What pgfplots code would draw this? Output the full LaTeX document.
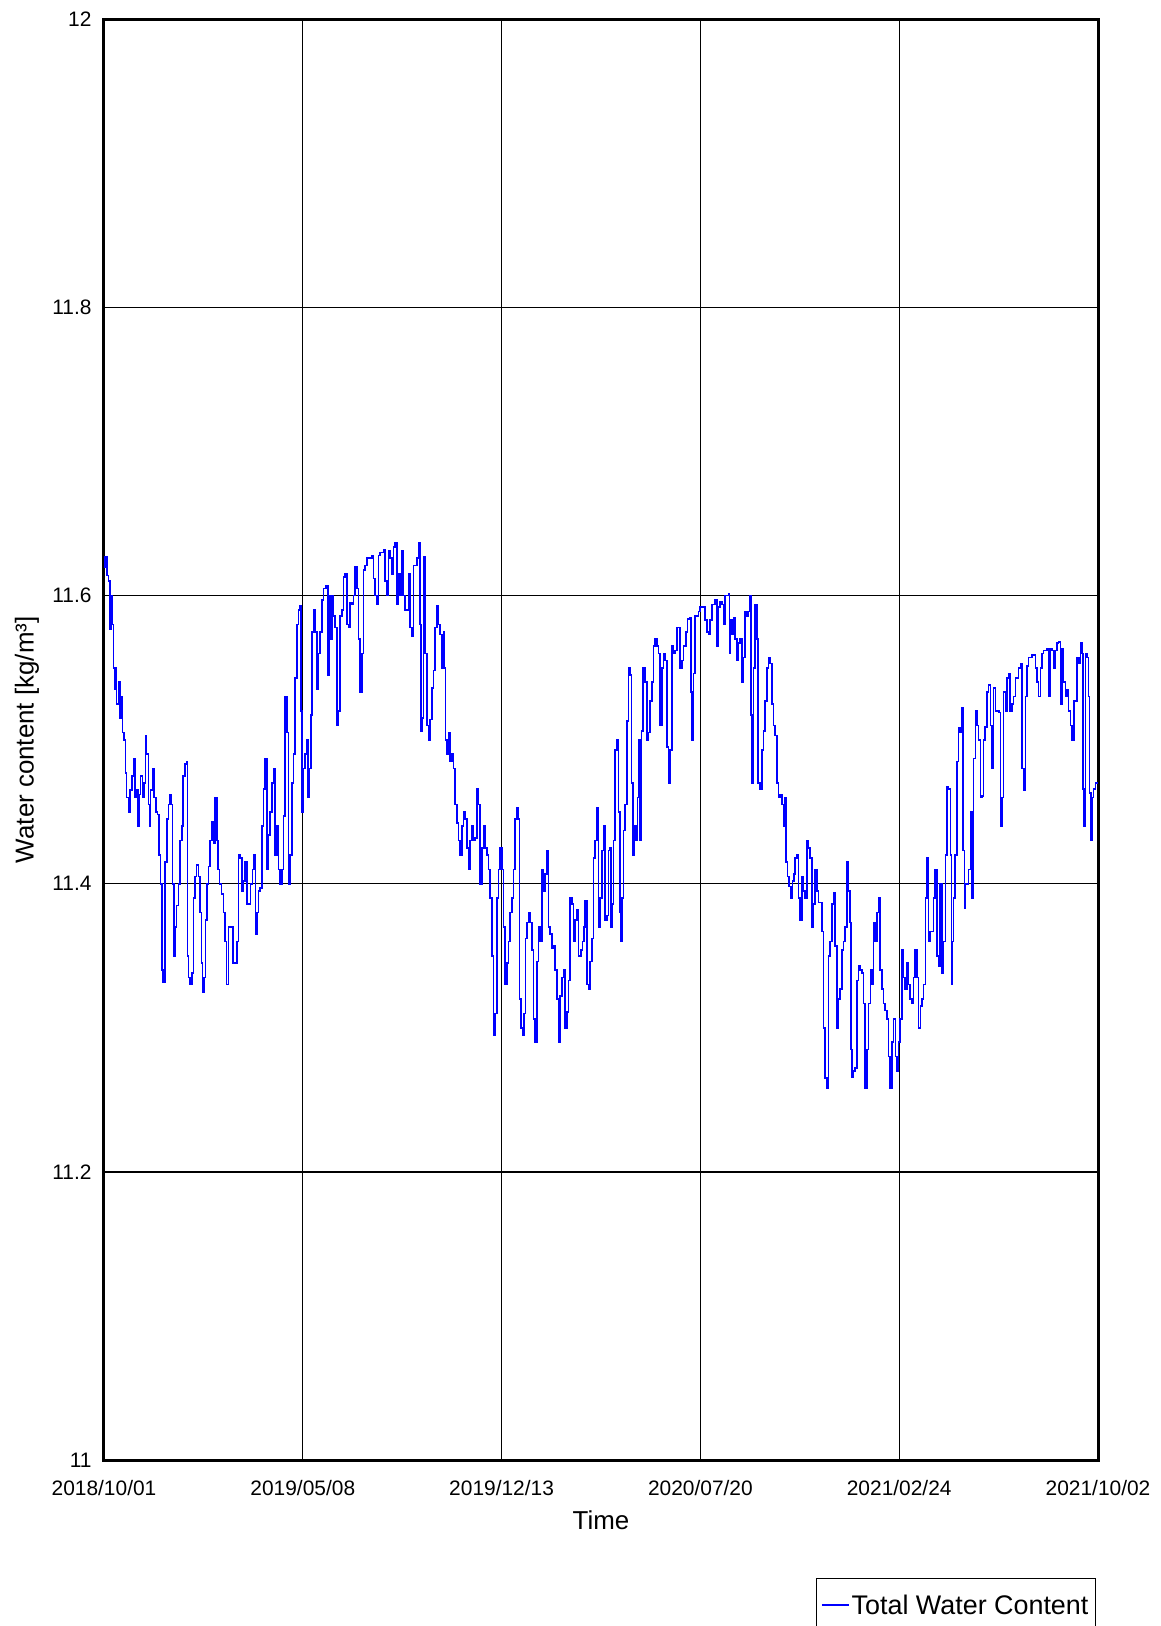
\documentclass[border=0pt]{standalone}
\usepackage{fontspec}
\setmainfont{Liberation Sans}
\usepackage{pgfplots}
\pgfplotsset{compat=1.18}
\begin{document}
\begin{tikzpicture}
\path[use as bounding box] (-104bp,-166bp) rectangle (1057bp,1460bp);
\begin{axis}[
  at={(0,0)}, anchor=south west,
  scale only axis, width=994bp, height=1440.5bp,
  xmin=0, xmax=1097, ymin=11, ymax=12,
  xtick={0,219.4,438.8,658.2,877.6,1097},
  xticklabels={2018/10/01,2019/05/08,2019/12/13,2020/07/20,2021/02/24,2021/10/02},
  ytick={11,11.2,11.4,11.6,11.8,12},
  yticklabels={11,11.2,11.4,11.6,11.8,12},
  major tick length=0pt,
  grid=major, major grid style={black, line width=1.3bp},
  axis line style={black, line width=3bp},
  tick label style={font=\fontsize{21}{25}\selectfont},
  xticklabel style={yshift=-17bp},
  yticklabel style={xshift=-9bp},
  xlabel={Time}, ylabel={Water content [kg/m³]},
  every axis x label/.style={at={(axis description cs:0.5,0)}, anchor=center, yshift=-60bp, font=\fontsize{26}{30}\selectfont},
  every axis y label/.style={at={(axis description cs:-0.0775,0.5)}, anchor=center, rotate=90, font=\fontsize{26}{30}\selectfont},
  legend style={at={(1,0)}, anchor=north east, xshift=-2bp, yshift=-118bp, draw=black, line width=1.2bp, font=\fontsize{27}{31}\selectfont, inner xsep=5bp, inner ysep=14bp},
  legend cell align=left,
  legend image code/.code={\draw[blue, line width=1.5bp] (0bp,0bp) -- (23bp,0bp); \path (0bp,0bp) -- (27bp,0bp);},
]
\addplot[const plot, blue, line width=1.6bp] table {
0 11.62
1.1 11.627
3.0 11.614
4.8 11.61
6.6 11.577
7.7 11.60
8.8 11.58
10.3 11.55
11.4 11.535
12.9 11.55
14.0 11.525
15.8 11.54
17.7 11.515
19.5 11.53
20.6 11.505
22.1 11.50
23.6 11.477
25.0 11.46
26.9 11.45
28.7 11.465
30.6 11.475
32.4 11.487
34.2 11.46
36.1 11.465
37.6 11.44
39.0 11.462
40.5 11.475
42.3 11.46
44.2 11.47
45.6 11.503
47.1 11.49
49.0 11.455
50.1 11.44
51.5 11.465
53.4 11.48
55.2 11.46
57.1 11.45
58.9 11.448
60.4 11.42
62.2 11.40
63.7 11.34
65.2 11.332
67.0 11.415
69.2 11.445
71.0 11.455
72.9 11.462
74.7 11.455
75.8 11.40
77.3 11.35
78.8 11.37
80.2 11.385
82.1 11.40
83.9 11.43
85.8 11.44
87.2 11.475
89.1 11.483
90.9 11.485
92.0 11.35
93.1 11.335
95.0 11.33
96.8 11.338
98.6 11.39
100.5 11.405
102.3 11.413
104.2 11.405
106.0 11.38
107.5 11.345
108.9 11.325
110.4 11.335
111.9 11.375
113.4 11.40
115.2 11.412
117.0 11.43
118.9 11.443
120.7 11.428
122.6 11.46
124.4 11.43
125.9 11.41
127.3 11.40
129.6 11.393
131.8 11.38
133.6 11.36
135.4 11.33
137.3 11.37
139.9 11.37
142.1 11.345
144.6 11.345
146.5 11.36
148.3 11.42
150.2 11.418
152.0 11.395
153.8 11.402
155.7 11.415
157.5 11.386
160.1 11.386
161.9 11.40
163.8 11.41
165.6 11.42
167.1 11.365
168.6 11.38
170.4 11.395
172.2 11.397
174.1 11.44
175.9 11.466
177.8 11.487
179.6 11.41
181.4 11.434
183.3 11.45
185.1 11.47
187.0 11.48
188.8 11.42
190.7 11.44
192.5 11.41
194.3 11.40
196.2 11.41
198.0 11.447
199.9 11.53
201.7 11.505
203.5 11.40
205.4 11.42
207.2 11.47
209.1 11.49
210.9 11.543
212.7 11.58
214.6 11.59
216.4 11.593
217.5 11.52
218.6 11.45
220.1 11.48
221.9 11.49
223.8 11.50
225.3 11.46
226.7 11.48
228.2 11.517
229.7 11.575
231.1 11.59
233.0 11.575
234.8 11.535
236.7 11.56
238.5 11.575
240.3 11.597
242.2 11.605
245.1 11.607
247.0 11.545
248.4 11.60
250.3 11.57
251.7 11.60
253.2 11.586
255.1 11.578
256.9 11.51
258.7 11.52
260.6 11.586
262.4 11.59
264.3 11.613
266.1 11.615
267.9 11.58
269.8 11.578
271.6 11.595
273.5 11.594
275.3 11.60
277.1 11.62
279.0 11.605
280.8 11.57
282.7 11.533
284.5 11.56
286.3 11.618
288.2 11.621
290.0 11.626
293.7 11.626
295.5 11.628
297.4 11.612
299.2 11.60
301.1 11.594
302.9 11.628
304.7 11.63
308.4 11.632
310.3 11.61
312.1 11.60
313.9 11.631
315.8 11.626
317.6 11.615
319.5 11.634
321.3 11.637
323.1 11.594
325.0 11.615
326.8 11.60
328.7 11.631
330.5 11.60
332.3 11.59
334.2 11.59
336.0 11.615
337.9 11.578
339.7 11.572
341.5 11.621
344.1 11.621
345.2 11.626
347.1 11.637
348.5 11.58
349.6 11.506
351.1 11.515
352.6 11.627
354.4 11.56
356.3 11.51
358.1 11.50
359.9 11.514
361.8 11.536
363.6 11.548
365.5 11.578
367.3 11.593
369.1 11.58
371.0 11.573
372.7 11.55
374.6 11.575
375.7 11.55
376.8 11.50
378.3 11.49
380.1 11.505
382.0 11.485
383.8 11.49
385.6 11.48
387.5 11.455
389.3 11.442
391.1 11.43
393.0 11.42
394.8 11.44
396.7 11.45
398.5 11.445
400.3 11.425
402.2 11.41
404.0 11.43
405.9 11.44
407.7 11.43
409.5 11.432
411.4 11.466
413.2 11.455
415.1 11.40
416.9 11.425
418.7 11.44
420.6 11.425
422.4 11.42
424.3 11.41
426.1 11.39
427.9 11.35
429.8 11.295
431.6 11.31
433.5 11.39
435.3 11.41
437.1 11.425
439.0 11.41
440.8 11.37
442.7 11.33
444.5 11.345
446.3 11.36
448.2 11.38
450.0 11.39
451.9 11.41
453.7 11.445
455.5 11.453
457.4 11.445
458.5 11.32
460.0 11.30
461.8 11.295
463.6 11.31
465.1 11.362
467.0 11.373
468.4 11.38
470.3 11.373
472.1 11.354
474.0 11.306
475.8 11.29
477.6 11.346
479.5 11.37
481.3 11.36
483.1 11.41
485.0 11.395
486.8 11.407
488.7 11.423
490.5 11.37
492.3 11.365
494.2 11.355
496.0 11.357
497.9 11.34
499.7 11.32
501.5 11.29
503.4 11.322
505.2 11.335
507.1 11.34
508.9 11.30
510.7 11.311
512.6 11.333
514.4 11.39
516.3 11.386
518.1 11.36
519.9 11.375
521.8 11.382
523.6 11.35
526.2 11.354
528.0 11.36
529.5 11.37
531.0 11.388
532.8 11.33
534.7 11.327
536.5 11.346
538.3 11.362
540.2 11.418
542.0 11.43
543.9 11.453
545.7 11.37
547.5 11.39
549.4 11.423
551.2 11.44
553.1 11.375
554.9 11.378
556.7 11.423
558.6 11.425
559.3 11.37
560.4 11.386
562.3 11.43
564.1 11.493
566.0 11.50
567.8 11.45
569.3 11.38
570.4 11.36
571.8 11.39
573.3 11.437
575.2 11.455
577.0 11.513
578.8 11.55
580.7 11.545
582.2 11.47
583.6 11.42
585.5 11.44
587.3 11.43
588.8 11.46
590.2 11.50
591.7 11.43
593.2 11.506
595.0 11.55
596.9 11.54
599.1 11.50
600.9 11.505
602.8 11.527
604.6 11.54
606.4 11.565
608.3 11.57
610.1 11.565
612.0 11.56
613.8 11.51
615.6 11.55
617.5 11.56
619.3 11.555
621.2 11.495
623.0 11.47
624.8 11.493
626.7 11.565
628.5 11.56
630.4 11.562
632.2 11.578
634.8 11.578
635.9 11.55
637.7 11.555
639.6 11.565
642.1 11.575
644.0 11.584
646.2 11.585
647.7 11.533
648.8 11.50
650.6 11.546
652.4 11.586
656.1 11.589
658.0 11.592
661.6 11.592
663.5 11.583
665.3 11.575
667.2 11.573
669.0 11.583
670.8 11.594
674.5 11.597
676.4 11.565
678.2 11.592
680.0 11.596
681.9 11.594
683.7 11.58
685.6 11.60
689.2 11.601
690.3 11.56
691.4 11.583
692.9 11.573
694.8 11.585
696.6 11.57
698.4 11.555
700.3 11.567
702.1 11.57
704.0 11.54
705.8 11.557
707.6 11.589
709.5 11.586
711.3 11.589
713.2 11.60
714.3 11.517
715.4 11.47
716.8 11.55
718.3 11.594
720.5 11.57
722.0 11.47
724.2 11.466
726.0 11.493
727.9 11.506
729.7 11.527
731.6 11.55
733.4 11.557
735.2 11.553
737.1 11.525
738.9 11.51
740.8 11.503
742.6 11.47
744.4 11.46
746.3 11.462
748.1 11.455
750.0 11.44
751.8 11.46
752.9 11.415
754.4 11.405
756.2 11.398
758.1 11.39
759.9 11.402
761.8 11.407
762.9 11.418
764.7 11.42
766.5 11.39
768.4 11.375
770.2 11.405
772.1 11.395
773.9 11.39
775.7 11.43
777.6 11.425
779.4 11.418
781.3 11.37
783.1 11.386
784.9 11.41
786.8 11.395
788.6 11.387
790.5 11.387
792.3 11.367
794.1 11.30
796.0 11.265
797.8 11.258
799.7 11.35
801.5 11.36
803.3 11.386
805.2 11.394
807.0 11.357
808.9 11.30
810.7 11.32
812.5 11.327
814.4 11.354
816.2 11.36
818.1 11.37
819.9 11.415
821.7 11.395
823.6 11.373
824.7 11.285
825.8 11.266
827.3 11.27
829.1 11.272
831.0 11.333
832.8 11.343
834.6 11.34
836.5 11.338
838.3 11.317
840.1 11.258
842.0 11.285
843.8 11.317
845.7 11.34
847.5 11.33
849.3 11.373
851.2 11.36
853.0 11.38
854.9 11.39
856.7 11.34
858.5 11.327
860.4 11.317
862.2 11.312
864.1 11.306
865.9 11.28
867.7 11.258
869.6 11.29
871.4 11.306
873.3 11.28
875.1 11.27
876.9 11.29
878.8 11.306
880.6 11.354
882.5 11.335
884.3 11.327
886.1 11.345
888.0 11.33
889.8 11.32
891.7 11.317
893.5 11.335
895.3 11.354
897.2 11.335
899.0 11.30
900.9 11.315
902.7 11.32
904.5 11.33
906.4 11.39
908.2 11.418
910.1 11.36
911.9 11.367
913.7 11.367
915.6 11.39
917.4 11.41
919.3 11.35
921.1 11.343
922.9 11.40
924.8 11.338
926.6 11.36
928.5 11.42
930.3 11.467
932.1 11.466
934.0 11.42
935.1 11.33
936.6 11.36
937.7 11.39
939.5 11.42
941.4 11.485
943.2 11.508
945.0 11.505
946.9 11.522
948.0 11.423
949.5 11.383
950.9 11.40
952.4 11.40
954.2 11.41
956.1 11.45
957.9 11.39
959.8 11.487
961.6 11.52
963.4 11.51
965.3 11.50
967.1 11.46
969.0 11.461
970.8 11.50
972.6 11.509
974.5 11.533
976.3 11.538
978.2 11.51
980.0 11.48
981.8 11.536
983.7 11.52
985.5 11.52
987.4 11.519
989.2 11.44
991.0 11.46
992.9 11.533
994.7 11.52
996.6 11.543
998.4 11.546
1000.2 11.52
1002.1 11.525
1003.9 11.53
1005.8 11.543
1007.6 11.543
1009.4 11.55
1011.3 11.553
1013.1 11.48
1015.0 11.465
1016.8 11.53
1018.6 11.551
1020.5 11.557
1024.2 11.559
1026.0 11.559
1027.8 11.55
1029.7 11.54
1031.5 11.53
1033.4 11.55
1035.2 11.56
1037.0 11.562
1040.7 11.563
1042.6 11.53
1044.4 11.563
1046.2 11.562
1048.1 11.55
1049.9 11.562
1051.8 11.567
1053.6 11.568
1055.4 11.525
1057.3 11.563
1059.1 11.54
1061.0 11.53
1062.8 11.535
1064.6 11.52
1066.5 11.51
1068.3 11.50
1070.2 11.527
1072.0 11.527
1073.8 11.557
1075.7 11.553
1077.5 11.567
1079.4 11.56
1080.5 11.466
1081.6 11.44
1083.0 11.56
1084.9 11.557
1086.7 11.53
1087.8 11.463
1089.3 11.43
1090.8 11.46
1092.2 11.466
1094.1 11.47
1095.2 11.47
1097 11.47
};
\addlegendentry{Total Water Content}
\end{axis}
\end{tikzpicture}
\end{document}
